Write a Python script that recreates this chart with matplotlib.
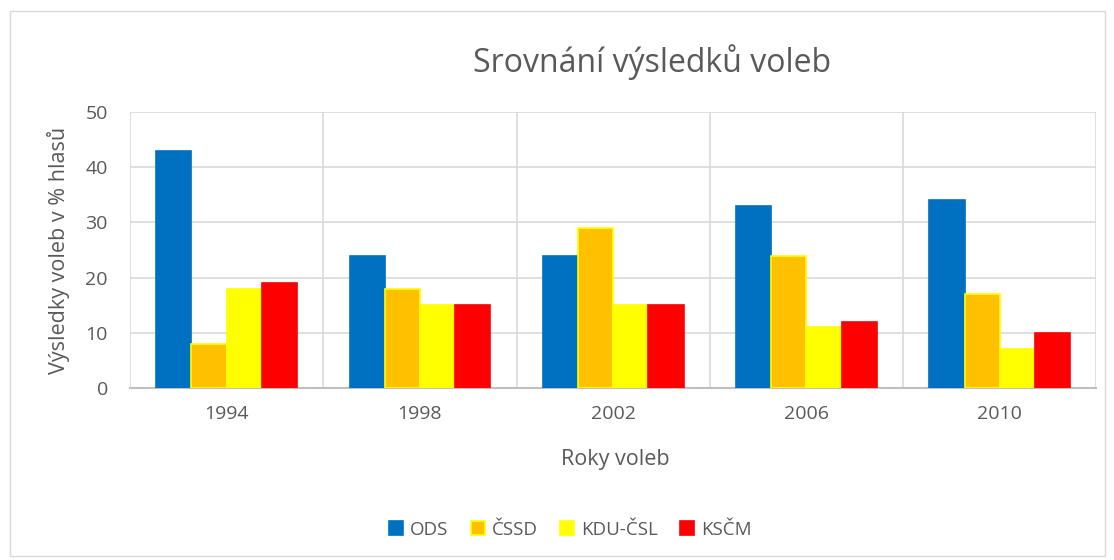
import matplotlib
matplotlib.use("Agg")
import matplotlib.pyplot as plt
import numpy as np
from matplotlib.patches import Rectangle

years = ["1994", "1998", "2002", "2006", "2010"]
parties = ["ODS", "ČSSD", "KDU-ČSL", "KSČM"]
ods = [43, 24, 24, 33, 34]
cssd = [8, 18, 29, 24, 17]
kdu = [18, 15, 15, 11, 7]
kscm = [19, 15, 15, 12, 10]
series = [ods, cssd, kdu, kscm]
colors = ["#0070C0", "#FFC000", "#FFFF00", "#FF0000"]
edges = ["#0070C0", "#FFFF00", "#FFFF00", "#FF0000"]

plt.rcParams['font.family'] = ['Open Sans', 'DejaVu Sans']
txt = "#595959"

fig = plt.figure(figsize=(11.14, 5.6), dpi=100)
ax = fig.add_axes([0.1167, 0.307, 0.8675, 0.493])

x = np.arange(len(years))
w = 0.182
for i, (vals, c, e) in enumerate(zip(series, colors, edges)):
    ax.bar(x + (i - 1.5) * w, vals, width=w, color=c, edgecolor=e,
           linewidth=1.2, label=parties[i], zorder=3)

ax.set_xlim(-0.5, len(years) - 0.5)
ax.set_ylim(0, 50)
ax.set_yticks(range(0, 51, 10))
ax.set_xticks(x)
ax.set_xticklabels(years)
for b in np.arange(-0.5, len(years), 1.0):
    ax.axvline(b, color="#D9D9D9", lw=1.2, zorder=1)
ax.yaxis.grid(True, color="#D9D9D9", lw=1.2, zorder=1)
for s in ["top", "right", "left"]:
    ax.spines[s].set_visible(False)
ax.spines["bottom"].set_color("#BFBFBF")
ax.spines["bottom"].set_linewidth(1.5)
ax.tick_params(axis="both", length=0, labelsize=14, colors=txt)
ax.tick_params(axis="y", pad=16)
ax.tick_params(axis="x", pad=12)

fig.text(0.552, 1 - 460 / 560, "Roky voleb", fontsize=15.5, color=txt,
         ha="center", va="center")
fig.text(58 / 1114, 1 - 250 / 560, "Výsledky voleb v % hlasů", fontsize=15.5,
         color=txt, ha="center", va="center", rotation=90)
fig.text(0.585, 0.889, "Srovnání výsledků voleb", fontsize=23, color=txt,
         ha="center", va="center")

leg = fig.legend(loc="center", bbox_to_anchor=(0.512, 0.054), ncol=4,
                 frameon=False, fontsize=13.5, handlelength=0.75,
                 handleheight=0.75, columnspacing=1.2, handletextpad=0.35)
for t in leg.get_texts():
    t.set_color(txt)

fig.patches.append(Rectangle((0.009, 0.008), 0.983, 0.972, transform=fig.transFigure,
                             fill=False, edgecolor="#D9D9D9", lw=1.0))

fig.savefig("out.png", dpi=100)
